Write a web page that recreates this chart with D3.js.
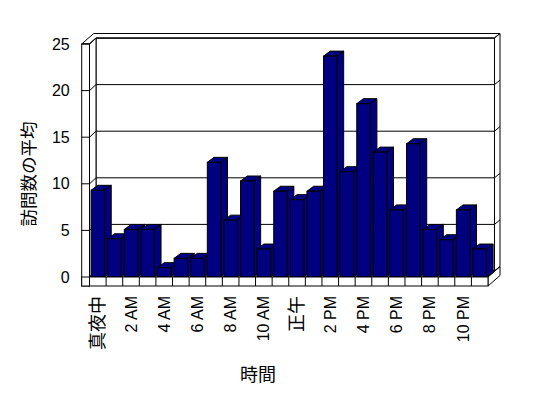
<!DOCTYPE html>
<html>
<head>
<meta charset="utf-8">
<script src="https://cdn.jsdelivr.net/npm/d3@7"></script>
<style>
  body { margin: 0; background: #fff; }
  text { fill: #000; }
</style>
</head>
<body>
<script>
// data: average visits per hour
var hours = d3.range(24);
var visits = [9.3, 4.1, 5.1, 5.1, 1.0, 2.0, 2.0, 12.3, 6.1, 10.3, 3.0, 9.2,
              8.3, 9.2, 23.7, 11.3, 18.6, 13.4, 7.2, 14.3, 5.1, 4.0, 7.2, 3.0];
var hourLabels = {0: "真夜中", 2: "2 AM", 4: "4 AM", 6: "6 AM", 8: "8 AM", 10: "10 AM",
                  12: "正午", 14: "2 PM", 16: "4 PM", 18: "6 PM", 20: "8 PM", 22: "10 PM"};
var yTicks = [0, 5, 10, 15, 20, 25];
var yTitle = "訪問数の平均";
var xTitle = "時間";

var w = 548, h = 398;

// front plane of the 3d box
var xOuter = 81.7;   // left wall outer edge
var xLeft = 89.5;    // left wall inner edge / floor start
var xRight = 488;    // floor front right end
var floorBottom = 286;

// depth offsets
var wallD = [6.5, -6];    // back wall front face
var fullD = [12, -10.5];  // back of the box
var barD = [6.7, -5];     // bar depth

var x = d3.scaleBand()
    .domain(hours)
    .range([xLeft, xRight])
    .paddingInner(0.19)
    .paddingOuter(0.095);

var y = d3.scaleLinear()
    .domain([0, 25])
    .range([277, 44]);

var yF = y(0), yT = y(25);
var step = (xRight - xLeft) / hours.length;

var jpFont = "'Noto Sans CJK JP', sans-serif";
var numFont = "'Liberation Sans', Arial, sans-serif";

var svg = d3.select("body").append("svg")
    .attr("width", w)
    .attr("height", h)
    .style("background", "#fff");

function poly(pts) {
    return "M" + pts.map(function (p) { return p[0] + "," + p[1]; }).join("L") + "Z";
}

var box = svg.append("g")
    .attr("fill", "#fff")
    .attr("stroke", "#000")
    .attr("stroke-width", 1);

// back wall front face
box.append("path").attr("d", poly([
    [xLeft + wallD[0], yT + wallD[1]], [xRight + wallD[0], yT + wallD[1]],
    [xRight + wallD[0], yF + wallD[1]], [xLeft + wallD[0], yF + wallD[1]]]));

// top of the walls
box.append("path").attr("d", poly([
    [xOuter, yT], [xLeft, yT], [xLeft + wallD[0], yT + wallD[1]],
    [xRight + wallD[0], yT + wallD[1]], [xRight + fullD[0], yT + fullD[1]],
    [xOuter + fullD[0], yT + fullD[1]]]));

// right face of back wall
box.append("path").attr("d", poly([
    [xRight + wallD[0], yT + wallD[1]], [xRight + fullD[0], yT + fullD[1]],
    [xRight + fullD[0], yF + fullD[1]], [xRight + wallD[0], yF + wallD[1]]]));

// floor right face
box.append("path").attr("d", poly([
    [xRight, yF], [xRight + fullD[0], yF + fullD[1]],
    [xRight + fullD[0], floorBottom + fullD[1]], [xRight, floorBottom]]));

// left wall inner face
box.append("path").attr("d", poly([
    [xLeft, yT], [xLeft + wallD[0], yT + wallD[1]],
    [xLeft + wallD[0], yF + wallD[1]], [xLeft, yF]]));

// floor top
box.append("path").attr("d", poly([
    [xLeft, yF], [xRight, yF], [xRight + wallD[0], yF + wallD[1]], [xLeft + wallD[0], yF + wallD[1]]]));

// gridlines on the walls
var grid = svg.append("g").attr("stroke", "#000").attr("fill", "none");
yTicks.forEach(function (v) {
    var yy = y(v);
    grid.append("path").attr("d",
        "M" + xLeft + "," + yy +
        "L" + (xLeft + wallD[0]) + "," + (yy + wallD[1]) +
        "L" + (xRight + wallD[0]) + "," + (yy + wallD[1]) +
        "L" + (xRight + fullD[0]) + "," + (yy + fullD[1]));
});

// bars, left to right so each front covers the previous side
var bars = svg.append("g")
    .attr("fill", "#000080")
    .attr("stroke", "#000")
    .attr("stroke-width", 1);

hours.forEach(function (hr, i) {
    var bx = x(hr), bw = x.bandwidth(), by = y(visits[i]);
    var g = bars.append("g");
    g.append("path").attr("d", poly([
        [bx + bw, by], [bx + bw + barD[0], by + barD[1]],
        [bx + bw + barD[0], yF + barD[1]], [bx + bw, yF]]));
    g.append("path").attr("d", poly([
        [bx, by], [bx + barD[0], by + barD[1]],
        [bx + bw + barD[0], by + barD[1]], [bx + bw, by]]));
    g.append("rect")
        .attr("x", bx).attr("y", by)
        .attr("width", bw).attr("height", yF - by);
});

// floor front face with category dividers
var front = svg.append("g").attr("fill", "#fff").attr("stroke", "#000");
front.append("rect")
    .attr("x", xOuter).attr("y", yF)
    .attr("width", xRight - xOuter).attr("height", floorBottom - yF);
front.selectAll("line.div")
    .data(d3.range(1, hours.length))
    .enter().append("line")
    .attr("x1", function (i) { return xLeft + i * step; })
    .attr("x2", function (i) { return xLeft + i * step; })
    .attr("y1", yF).attr("y2", floorBottom);

// left wall front face
front.append("rect")
    .attr("x", xOuter).attr("y", yT)
    .attr("width", xLeft - xOuter).attr("height", floorBottom - yT);
front.selectAll("line.tick")
    .data(yTicks)
    .enter().append("line")
    .attr("x1", xOuter).attr("x2", xLeft)
    .attr("y1", function (v) { return y(v); })
    .attr("y2", function (v) { return y(v); });

// value axis labels
var yAxis = svg.append("g")
    .attr("transform", "translate(" + xOuter + ",0)")
    .call(d3.axisLeft(y).tickValues(yTicks).tickSize(0).tickPadding(12));
yAxis.select(".domain").remove();
yAxis.selectAll("text")
    .style("font-family", numFont)
    .style("font-size", "16px")
    .attr("fill", "#000");

// category labels, rotated
svg.append("g").selectAll("text")
    .data(hours.filter(function (hr) { return hourLabels[hr] !== undefined; }))
    .enter().append("text")
    .attr("transform", function (hr) {
        return "translate(" + (x(hr) + x.bandwidth() / 2) + ",296) rotate(-90)";
    })
    .attr("text-anchor", "end")
    .attr("dy", "0.35em")
    .attr("fill", "#000")
    .style("font-family", function (hr) { return (hr === 0 || hr === 12) ? jpFont : numFont; })
    .style("font-size", function (hr) { return (hr === 0 || hr === 12) ? "18px" : "16px"; })
    .text(function (hr) { return hourLabels[hr]; });

// axis titles
svg.append("text")
    .attr("transform", "translate(29,174) rotate(-90)")
    .attr("text-anchor", "middle")
    .attr("dy", "0.35em")
    .attr("fill", "#000")
    .style("font-family", jpFont)
    .style("font-size", "17.5px")
    .text(yTitle);

svg.append("text")
    .attr("x", 258).attr("y", 375)
    .attr("text-anchor", "middle")
    .attr("dy", "0.35em")
    .attr("fill", "#000")
    .style("font-family", jpFont)
    .style("font-size", "18px")
    .text(xTitle);
</script>
</body>
</html>
